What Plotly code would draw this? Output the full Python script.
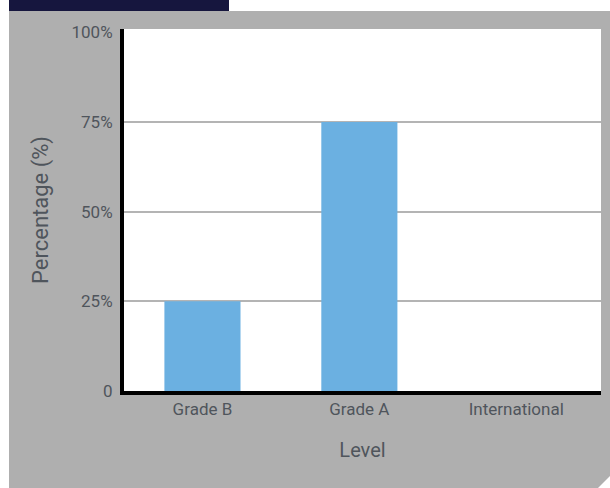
import plotly.graph_objects as go

categories = ["Grade B", "Grade A", "International"]
percentages = [25, 75, 0]
y_tick_values = [0, 25, 50, 75, 100]
y_tick_labels = ["0", "25%", "50%", "75%", "100%"]
grid_values = [25, 50, 75]

W, H = 610, 488
L, R, T, B = 124, 9, 29, 97
PW, PH = W - L - R, H - T - B


def px(x):
    return (x - L) / PW


def py(y):
    return (H - B - y) / PH


TEXT = "#4f555c"
FONT = "Roboto"

fig = go.Figure()
fig.add_trace(go.Bar(
    x=[0, 1, 2], y=percentages, marker=dict(color="#6bb0e1", line=dict(width=0)),
    width=0.485, showlegend=False, hoverinfo="skip",
))
# invisible trace to activate the grid-only overlay axis
fig.add_trace(go.Scatter(x=[0], y=[0], yaxis="y2", mode="markers",
                         marker=dict(opacity=0), showlegend=False, hoverinfo="skip"))

shapes = [
    dict(type="rect", xref="paper", yref="paper", x0=px(9), x1=px(229), y0=py(11), y1=py(0),
         fillcolor="#16163e", line=dict(width=0), layer="below"),
    dict(type="path", xref="paper", yref="paper",
         path=f"M {px(9)} {py(11)} L {px(610)} {py(11)} L {px(610)} {py(476)} "
              f"L {px(598)} {py(488)} L {px(9)} {py(488)} Z",
         fillcolor="#afafaf", line=dict(width=0), layer="below"),
    dict(type="rect", xref="paper", yref="paper", x0=0, x1=1, y0=0, y1=1,
         fillcolor="white", line=dict(width=0), layer="below"),
]

fig.update_layout(
    width=W, height=H,
    margin=dict(l=L, r=R, t=T, b=B, pad=0),
    paper_bgcolor="white", plot_bgcolor="rgba(0,0,0,0)",
    font=dict(family=FONT, color=TEXT, size=17),
    shapes=shapes,
    xaxis=dict(
        range=[-0.5, 2.54], tickvals=[0, 1, 2], ticktext=categories,
        showgrid=False, zeroline=False, showline=True, linecolor="black", linewidth=4,
        ticks="", tickfont=dict(size=17, color=TEXT),
        title=dict(text="Level", font=dict(size=20, color=TEXT), standoff=26),
        fixedrange=True,
    ),
    yaxis=dict(
        range=[0, 100.9], tickvals=y_tick_values, ticktext=y_tick_labels,
        showgrid=False, zeroline=False, showline=True, linecolor="black", linewidth=4,
        ticks="", tickfont=dict(size=17, color=TEXT), ticklabelstandoff=4,
        title=dict(text="Percentage (%)", font=dict(size=22, color=TEXT), standoff=18),
        fixedrange=True,
    ),
    yaxis2=dict(
        overlaying="y", matches="y", range=[0, 100.9], tickvals=grid_values,
        showticklabels=False, showgrid=True, gridcolor="#b4b4b4", gridwidth=2,
        zeroline=False, showline=False, ticks="", fixedrange=True,
    ),
)

fig.write_html(
    "out.html",
    config={"displayModeBar": False, "staticPlot": True},
    post_script="document.body.style.margin='0';document.body.style.overflow='hidden';",
)
